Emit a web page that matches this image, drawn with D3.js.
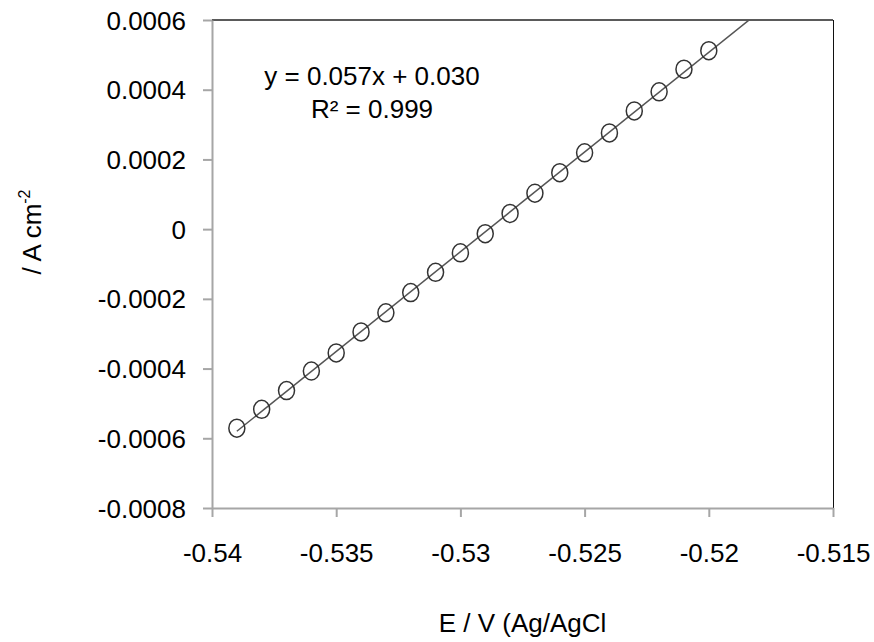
<!DOCTYPE html>
<html>
<head>
<meta charset="utf-8">
<script src="https://cdn.jsdelivr.net/npm/d3@7"></script>
<style>
  html, body { margin: 0; padding: 0; background: #fff; }
  svg { display: block; font-family: "Liberation Sans", Arial, sans-serif; }
</style>
</head>
<body>
<svg id="chart" width="874" height="642"></svg>
<script>
// ---- data ----
const potentials = [-0.539, -0.538, -0.537, -0.536, -0.535, -0.534, -0.533, -0.532, -0.531, -0.530,
                    -0.529, -0.528, -0.527, -0.526, -0.525, -0.524, -0.523, -0.522, -0.521, -0.520];
const currents = [-0.000571, -0.000517, -0.000463, -0.000407, -0.000355, -0.000295, -0.000240, -0.000182, -0.000124, -0.000068,
                  -0.000013, 0.000045, 0.000103, 0.000162, 0.000219, 0.000276, 0.000339, 0.000394, 0.000459, 0.000512];
const xTicks = [-0.54, -0.535, -0.53, -0.525, -0.52, -0.515];
const xTickLabels = ["-0.54", "-0.535", "-0.53", "-0.525", "-0.52", "-0.515"];
const yTicks = [-0.0008, -0.0006, -0.0004, -0.0002, 0, 0.0002, 0.0004, 0.0006];
const yTickLabels = ["-0.0008", "-0.0006", "-0.0004", "-0.0002", "0", "0.0002", "0.0004", "0.0006"];
const equationText = "y = 0.057x + 0.030";
const r2Text = "R² = 0.999";
const xTitle = "E / V (Ag/AgCl";

// ---- layout ----
const L = 212, R = 833, T = 20, B = 508;
const svg = d3.select("#chart");
const x = d3.scaleLinear().domain([-0.54, -0.515]).range([L, R]);
const y = d3.scaleLinear().domain([-0.0008, 0.0006]).range([B, T]);

// linear regression from data
const n = potentials.length;
const mx = d3.mean(potentials), my = d3.mean(currents);
let sxy = 0, sxx = 0;
for (let i = 0; i < n; i++) { sxy += (potentials[i]-mx)*(currents[i]-my); sxx += (potentials[i]-mx)**2; }
const slope = sxy / sxx, intercept = my - slope * mx;

// clip
svg.append("defs").append("clipPath").attr("id", "plotclip")
  .append("rect").attr("x", L).attr("y", T).attr("width", R - L).attr("height", B - T);

// top & right borders
svg.append("line").attr("x1", L).attr("x2", R).attr("y1", T).attr("y2", T)
  .attr("stroke", "#5a5a5a").attr("stroke-width", 2);
svg.append("line").attr("x1", R + 0.5).attr("x2", R + 0.5).attr("y1", T).attr("y2", B)
  .attr("stroke", "#111").attr("stroke-width", 1);

// axes
const axisColor = "#a6a6a6";
const xAxis = svg.append("g").attr("transform", `translate(0,${B})`)
  .call(d3.axisBottom(x).tickValues(xTicks).tickSize(9).tickSizeOuter(0)
    .tickFormat((d, i) => xTickLabels[i]));
const yAxis = svg.append("g").attr("transform", `translate(${L},0)`)
  .call(d3.axisLeft(y).tickValues(yTicks).tickSize(9).tickSizeOuter(0)
    .tickFormat((d, i) => yTickLabels[i]));
[xAxis, yAxis].forEach(g => {
  g.select(".domain").attr("stroke", axisColor).attr("stroke-width", 2);
  g.selectAll(".tick line").attr("stroke", axisColor).attr("stroke-width", 2);
  g.selectAll(".tick text").attr("fill", "#000").attr("font-size", 26)
    .attr("font-family", "Liberation Sans, Arial, sans-serif");
});
xAxis.selectAll(".tick text").attr("y", 0).attr("dy", 0).attr("transform", "translate(0,54)");
yAxis.selectAll(".tick text").attr("x", -26).attr("dy", "0.35em");

// trendline (forecast forward, clipped to plot)
const lx0 = d3.min(potentials), lx1 = -0.515;
svg.append("line").attr("clip-path", "url(#plotclip)")
  .attr("x1", x(lx0)).attr("y1", y(slope * lx0 + intercept))
  .attr("x2", x(lx1)).attr("y2", y(slope * lx1 + intercept))
  .attr("stroke", "#555").attr("stroke-width", 1.5);

// markers
svg.append("g").selectAll("ellipse").data(potentials).join("ellipse")
  .attr("cx", (d) => x(d)).attr("cy", (d, i) => y(currents[i]))
  .attr("rx", 8).attr("ry", 9)
  .attr("fill", "none").attr("stroke", "#333").attr("stroke-width", 1.5);

// equation
svg.append("text").attr("x", 372).attr("y", 85).attr("text-anchor", "middle")
  .attr("font-size", 26).text(equationText);
svg.append("text").attr("x", 372).attr("y", 118).attr("text-anchor", "middle")
  .attr("font-size", 26).text(r2Text);

// axis titles
svg.append("text").attr("x", (L + R) / 2).attr("y", 632).attr("text-anchor", "middle")
  .attr("font-size", 26).text(xTitle);
const yt = svg.append("text").attr("transform", "translate(41,232) rotate(-90)")
  .attr("text-anchor", "middle").attr("font-size", 26);
yt.append("tspan").text("/ A cm");
yt.append("tspan").attr("font-size", 16).attr("dy", -11).text("-2");
</script>
</body>
</html>
